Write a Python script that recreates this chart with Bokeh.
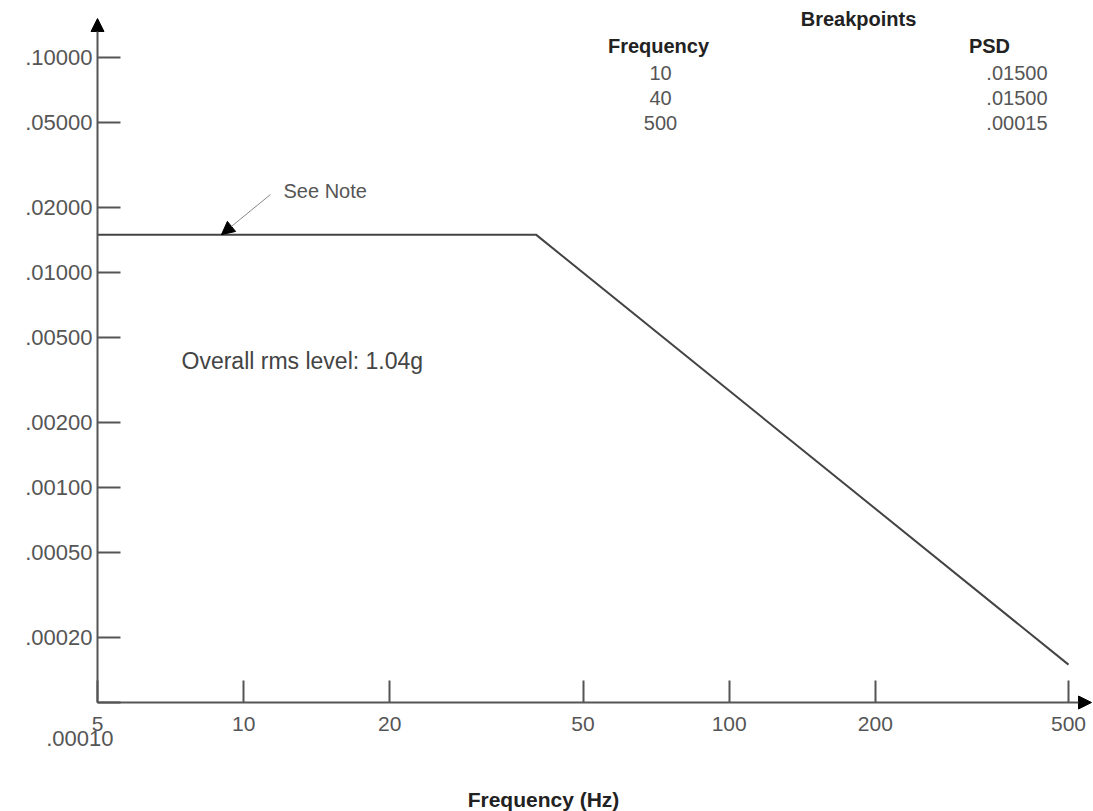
from bokeh.plotting import figure
from bokeh.models import FixedTicker, Label, Arrow, NormalHead, Range1d
from bokeh.embed import file_html
from bokeh.resources import INLINE

# ---------------- data ----------------
curve_freq = [5, 40, 500]
curve_psd = [0.015, 0.015, 0.00015]
bp_freq_labels = ["10", "40", "500"]
bp_psd_labels = [".01500", ".01500", ".00015"]
x_ticks = [5, 10, 20, 50, 100, 200, 500]
x_tick_labels = ["5", "10", "20", "50", "100", "200", "500"]
y_ticks = [0.1, 0.05, 0.02, 0.01, 0.005, 0.002, 0.001, 0.0005, 0.0002, 0.0001]
y_tick_labels = [".10000", ".05000", ".02000", ".01000", ".00500", ".00200",
                 ".00100", ".00050", ".00020", ".00010"]
note_freq = 9
note_psd = 0.015
rms_text = "Overall rms level: 1.04g"
x_title = "Frequency (Hz)"

# ---------------- layout ----------------
W, H = 1093, 811
AXL, AXB = 97, 702              # pixel position of the y axis / x axis lines
X0, Y0 = 5, 0.0001              # values at the axis corner
DX, DY = 485.5, 215.0           # px per decade
FONT = "Liberation Sans"
GREY = "#555555"


def fx(px):
    return X0 * 10 ** ((px - AXL) / DX)


def fy(py):
    return Y0 * 10 ** ((AXB - py) / DY)


p = figure(width=W, height=H, x_axis_type="log", y_axis_type="log",
           x_range=Range1d(fx(0), fx(W)), y_range=Range1d(fy(H), fy(0)),
           output_backend="svg", toolbar_location=None,
           min_border_left=0, min_border_right=0,
           min_border_top=0, min_border_bottom=0)
p.outline_line_color = None
p.grid.grid_line_color = None
p.background_fill_color = "white"

# axes drawn inside the frame at the corner values
p.xaxis.fixed_location = Y0
p.yaxis.fixed_location = X0
for ax in (p.xaxis, p.yaxis):
    ax.axis_line_color = None
    ax.major_tick_line_color = GREY
    ax.major_tick_line_width = 2
    ax.minor_tick_line_color = None
    ax.major_tick_out = 0
    ax.major_label_text_font = FONT
    ax.major_label_text_color = GREY

p.xaxis.ticker = FixedTicker(ticks=x_ticks, minor_ticks=[])
p.xaxis.major_label_overrides = {t: l for t, l in zip(x_ticks, x_tick_labels)}
p.xaxis.major_tick_in = 22
p.xaxis.major_label_standoff = 14
p.xaxis.major_label_text_font_size = "21px"

p.yaxis.ticker = FixedTicker(ticks=y_ticks, minor_ticks=[])
p.yaxis.major_label_overrides = {t: (l if t != Y0 else "") for t, l in zip(y_ticks, y_tick_labels)}
p.yaxis.major_tick_in = 23
p.yaxis.major_label_standoff = 5
p.yaxis.major_label_text_font_size = "22px"

# axis arrows (axis lines)
head = dict(size=13, fill_color="black", line_color="black")
p.add_layout(Arrow(x_start=X0, y_start=Y0, x_end=X0, y_end=fy(18),
                   line_color=GREY, line_width=2, end=NormalHead(**head)))
p.add_layout(Arrow(x_start=X0, y_start=Y0, x_end=fx(1091), y_end=Y0,
                   line_color=GREY, line_width=2, end=NormalHead(**head)))

# data curve
p.line(curve_freq, curve_psd, line_color="#444444", line_width=2)

# see-note pointer
p.add_layout(Arrow(x_start=fx(270), y_start=fy(194), x_end=note_freq, y_end=note_psd,
                   line_color="#888888", line_width=1, end=NormalHead(**head)))


def lab(px, py, text, align="left", bold=False, color=GREY, size="20px"):
    p.add_layout(Label(x=fx(px), y=fy(py), text=text, text_font=FONT,
                       text_font_size=size, text_color=color, text_align=align,
                       text_baseline="middle",
                       text_font_style="bold" if bold else "normal"))


lab(283, 190, "See Note")
lab(181, 360, rms_text, size="23px", color="#444444")

# breakpoint table
lab(858, 18, "Breakpoints", "center", True, "#222222")
lab(658, 45, "Frequency", "center", True, "#222222")
lab(989, 45, "PSD", "center", True, "#222222")
for i, (f, s) in enumerate(zip(bp_freq_labels, bp_psd_labels)):
    lab(660, 72 + 25 * i, f, "center")
    lab(1047, 72 + 25 * i, s, "right")

# bottom-left value and x title
lab(113, 738, y_tick_labels[-1], "right", size="22px")
lab(543, 799, x_title, "center", True, "#222222", size="21px")

open("out.html", "w").write(file_html(p, INLINE))
